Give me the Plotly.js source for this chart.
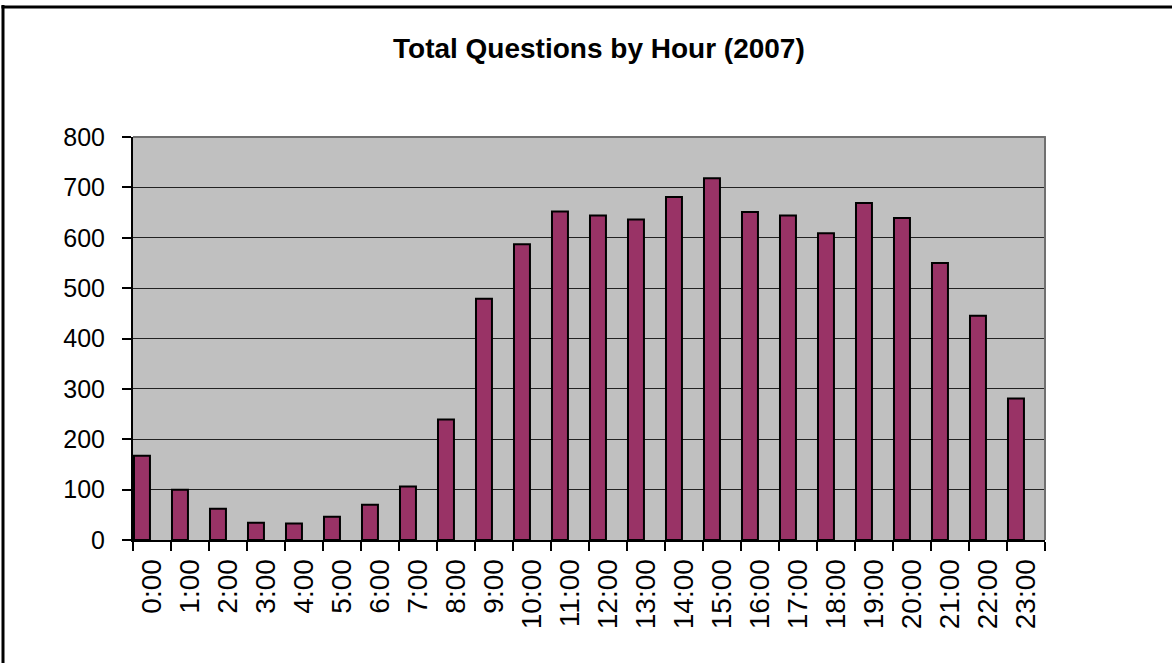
<!DOCTYPE html>
<html>
<head>
<meta charset="utf-8">
<script src="https://cdn.plot.ly/plotly-3.0.1.min.js"></script>
<style>
  html, body { margin: 0; padding: 0; background: #ffffff; }
  #chart { width: 1172px; height: 663px; }
</style>
</head>
<body>
<div id="chart"></div>
<script>
const hours = ["0:00","1:00","2:00","3:00","4:00","5:00","6:00","7:00","8:00","9:00","10:00","11:00",
               "12:00","13:00","14:00","15:00","16:00","17:00","18:00","19:00","20:00","21:00","22:00","23:00"];
const questions = [167, 100, 62, 34, 33, 46, 70, 106, 239, 479, 587, 652,
                   644, 636, 681, 718, 651, 644, 609, 669, 639, 550, 445, 281];
const yTicks = [0, 100, 200, 300, 400, 500, 600, 700, 800];
const chartTitle = "Total Questions by Hour (2007)";

const FONT = "Arial, 'Liberation Sans', sans-serif";

const trace = {
  type: "bar",
  x: hours,
  y: questions,
  width: 0.42,
  offset: -0.474,
  marker: { color: "#993366", line: { color: "#000000", width: 2 } },
  hoverinfo: "x+y"
};

const layout = {
  width: 1172,
  height: 663,
  margin: { l: 133, r: 127, t: 137, b: 123, pad: 0 },
  paper_bgcolor: "#ffffff",
  plot_bgcolor: "#c0c0c0",
  showlegend: false,
  font: { family: FONT, color: "#000000" },
  title: {
    text: "<b>" + chartTitle + "</b>",
    font: { family: FONT, size: 28, color: "#000000" },
    xref: "container", x: 0.511, xanchor: "center",
    yref: "container", y: 1 - 48 / 663, yanchor: "middle"
  },
  xaxis: {
    type: "category",
    tickson: "boundaries",
    ticks: "outside",
    ticklen: 9,
    tickwidth: 2,
    tickcolor: "#000000",
    tickangle: -90,
    tickfont: { family: FONT, size: 28, color: "#000000" },
    ticklabelstandoff: 6,
    showline: true,
    linecolor: "#000000",
    linewidth: 2,
    showgrid: false,
    zeroline: false,
    fixedrange: true
  },
  yaxis: {
    range: [0, 800],
    tickvals: yTicks,
    ticktext: yTicks.map(String),
    ticks: "outside",
    ticklen: 9,
    tickwidth: 2,
    tickcolor: "#000000",
    tickfont: { family: FONT, size: 25, color: "#000000" },
    ticklabelstandoff: 12,
    showline: true,
    linecolor: "#000000",
    linewidth: 2,
    showgrid: true,
    gridcolor: "#222222",
    gridwidth: 1,
    zeroline: false,
    fixedrange: true
  },
  shapes: [
    { type: "line", xref: "paper", yref: "paper", x0: 0, x1: 1.001, y0: 1, y1: 1,
      line: { color: "#707070", width: 2 } },
    { type: "line", xref: "paper", yref: "paper", x0: 1, x1: 1, y0: 0, y1: 1,
      line: { color: "#707070", width: 2 } },
    { type: "line", xref: "paper", yref: "paper", x0: (3 - 133) / 912, x1: (3 - 133) / 912,
      y0: (540 - 5) / 403, y1: (540 - 680) / 403, line: { color: "#000000", width: 3 } },
    { type: "line", xref: "paper", yref: "paper", x0: (1.5 - 133) / 912, x1: (1190 - 133) / 912,
      y0: (540 - 7) / 403, y1: (540 - 7) / 403, line: { color: "#000000", width: 3 } }
  ]
};

Plotly.newPlot("chart", [trace], layout, { displayModeBar: false, staticPlot: true });
</script>
</body>
</html>
